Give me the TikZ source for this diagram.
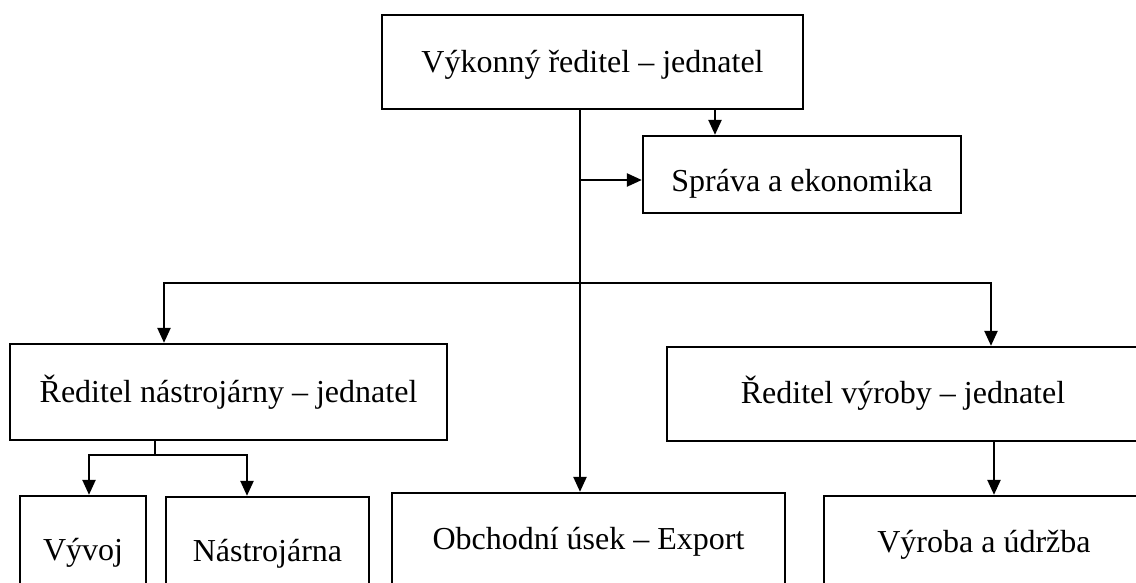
\documentclass[tikz,border=0pt]{standalone}
\usepackage{fontspec}
\setmainfont{Liberation Serif}
\usetikzlibrary{arrows.meta}

\tikzset{
  box/.style={draw, line width=2.3pt, inner sep=0pt, text depth=0pt,
    font=\fontsize{32}{38}\selectfont},
  link/.style={line width=2.3pt},
  arr/.style={link, -{Triangle[width=13pt,length=15pt]}},
}

\begin{document}
\begin{tikzpicture}[x=1pt,y=-1pt]
            \useasboundingbox (0,0) rectangle (1136,583);

            % Top level
            \node[box, minimum width=421pt, minimum height=94pt, text height=22pt] (vykonny) at (592.5,62) {Výkonný ředitel – jednatel};
            \node[box, minimum width=318pt, minimum height=77pt, text height=35pt] (sprava) at (802,174.5) {Správa a ekonomika};

            % Second level
            \node[box, minimum width=437pt, minimum height=96pt, text height=20pt] (reditelN) at (228.5,392) {Ředitel nástrojárny – jednatel};
            \node[box, minimum width=472pt, minimum height=94pt, text height=18pt] (reditelV) at (903,394) {Ředitel výroby – jednatel};

            % Bottom level
            \node[box, minimum width=126pt, minimum height=104pt, text height=24pt] (vyvoj) at (83,548) {Vývoj};
            \node[box, minimum width=203pt, minimum height=103pt, text height=25pt] (nastroj) at (267.5,548.5) {Nástrojárna};
            \node[box, minimum width=393pt, minimum height=107pt, text height=5pt] (obchod) at (588.5,546.5) {Obchodní úsek – Export};
            \node[box, minimum width=320pt, minimum height=104pt, text height=9pt] (vyroba) at (984,548) {Výroba a údržba};

            % Trunk and branches
            \coordinate (trunk) at (580,180);
            \coordinate (barL) at (164,283);
            \coordinate (barR) at (991,283);
            \coordinate (sub) at (155,455);
            \coordinate (subL) at (89,455);
            \coordinate (subR) at (247,455);

            \draw[arr] (vykonny.south -| trunk) -- (obchod.north -| trunk);
            \draw[arr] (trunk) -- (trunk -| sprava.west);
            \draw[arr] ([xshift=122.5pt]vykonny.south) -- ([xshift=-87pt]sprava.north);

            \draw[arr] (trunk |- barL) -| (reditelN.north -| barL);
            \draw[arr] (trunk |- barR) -| (reditelV.north -| barR);

            \draw[link] (reditelN.south -| sub) -- (sub);
            \draw[arr] (sub) -| (vyvoj.north -| subL);
            \draw[arr] (sub) -| (nastroj.north -| subR);

            \draw[arr] ([xshift=91pt]reditelV.south) -- ([xshift=91pt]reditelV.south |- vyroba.north);
\end{tikzpicture}
\end{document}
